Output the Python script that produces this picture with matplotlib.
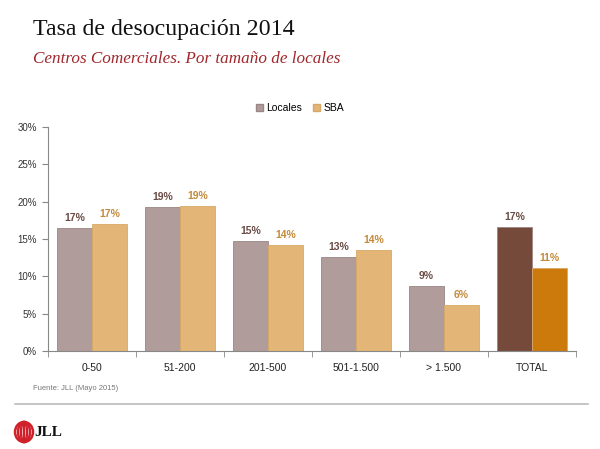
import matplotlib.pyplot as plt
import numpy as np
from matplotlib.patches import Ellipse, Patch

categories = ["0-50", "51-200", "201-500", "501-1.500", "> 1.500", "TOTAL"]
locales = [16.5, 19.3, 14.7, 12.6, 8.7, 16.6]
sba = [17.0, 19.4, 14.2, 13.5, 6.1, 11.1]
locales_labels = ["17%", "19%", "15%", "13%", "9%", "17%"]
sba_labels = ["17%", "19%", "14%", "14%", "6%", "11%"]
yticks = [0, 5, 10, 15, 20, 25, 30]

c_loc = "#B09C9A"
c_sba = "#E3B678"
c_loc_tot = "#764A3B"
c_sba_tot = "#CC7A0C"
c_loc_txt = "#6A4C46"
c_sba_txt = "#C48A3C"

fig = plt.figure(figsize=(6.0, 4.49), dpi=100)
fig.patch.set_facecolor("white")
ax = fig.add_axes([0.08, 0.2183, 0.88, 0.4989])

x = np.arange(len(categories))
w = 0.4
loc_colors = [c_loc] * (len(categories) - 1) + [c_loc_tot]
sba_colors = [c_sba] * (len(categories) - 1) + [c_sba_tot]
ax.bar(x - w / 2, locales, w, color=loc_colors, edgecolor="#9A8684", linewidth=0.6, label="Locales")
ax.bar(x + w / 2, sba, w, color=sba_colors, edgecolor="#D8A868", linewidth=0.6, label="SBA")

for i in range(len(categories)):
    ax.text(x[i] - w / 2, locales[i] + 0.7, locales_labels[i], ha="center", va="bottom",
            fontsize=7.5, fontweight="bold", color=c_loc_txt, family="Liberation Sans")
    ax.text(x[i] + w / 2, sba[i] + 0.7, sba_labels[i], ha="center", va="bottom",
            fontsize=7.5, fontweight="bold", color=c_sba_txt, family="Liberation Sans")

ax.set_xlim(-0.5, len(categories) - 0.5)
ax.set_ylim(0, 30)
ax.set_yticks(yticks)
ax.set_yticklabels([f"{t}%" for t in yticks], fontsize=7, color="#333333", family="Liberation Sans")
ax.set_xticks(x)
ax.set_xticklabels(categories, fontsize=7.5, color="#222222", family="Liberation Sans")
ax.set_xticks(np.arange(len(categories) + 1) - 0.5, minor=True)
ax.tick_params(axis="x", which="major", length=0, pad=9)
ax.tick_params(axis="x", which="minor", length=4, color="#888888", direction="out")
ax.tick_params(axis="y", length=4, color="#888888", direction="out", pad=4)
for s in ["top", "right"]:
    ax.spines[s].set_visible(False)
for s in ["left", "bottom"]:
    ax.spines[s].set_color("#888888")
    ax.spines[s].set_linewidth(0.8)

handles = [Patch(facecolor=c_loc, edgecolor="#9A8684"), Patch(facecolor=c_sba, edgecolor="#D8A868")]
leg = fig.legend(handles, ["Locales", "SBA"], loc="center", bbox_to_anchor=(0.5, 1 - 108 / 449),
                 ncol=2, frameon=False, handlelength=0.7, handleheight=0.7,
                 handletextpad=0.3, columnspacing=1.0, prop={"family": "Liberation Sans", "size": 7.5})

fig.text(33 / 600, 1 - 30 / 449, "Tasa de desocupación 2014", fontsize=17.2, family="Liberation Serif",
         color="#111111", va="center", ha="left")
fig.text(33 / 600, 1 - 59 / 449, "Centros Comerciales. Por tamaño de locales", fontsize=12.3,
         family="Liberation Serif", style="italic", color="#A0282D", va="center", ha="left")
fig.text(33 / 600, 1 - 388 / 449, "Fuente: JLL (Mayo 2015)", fontsize=5.5, family="Liberation Sans",
         color="#777777", va="center", ha="left")

fig.add_artist(plt.Line2D([15 / 600, 588 / 600], [1 - 404 / 449, 1 - 404 / 449],
                          color="#BBBBBB", linewidth=1.2, transform=fig.transFigure))

# JLL logo
cx, cy = 24 / 600, 1 - 432 / 449
for wd in [18, 12, 6]:
    fig.add_artist(Ellipse((cx, cy), wd / 600, 20 / 449, transform=fig.transFigure,
                           facecolor="none", edgecolor="#D0202A", linewidth=1.8))
fig.add_artist(plt.Line2D([cx, cx], [cy - 9 / 449, cy + 9 / 449], color="#D0202A", linewidth=1.6,
                          transform=fig.transFigure))
fig.text(34 / 600, cy, "JLL", fontsize=11, fontweight="bold", family="Liberation Serif",
         color="#111111", va="center", ha="left")

fig.savefig("out.png", dpi=100, facecolor="white")
